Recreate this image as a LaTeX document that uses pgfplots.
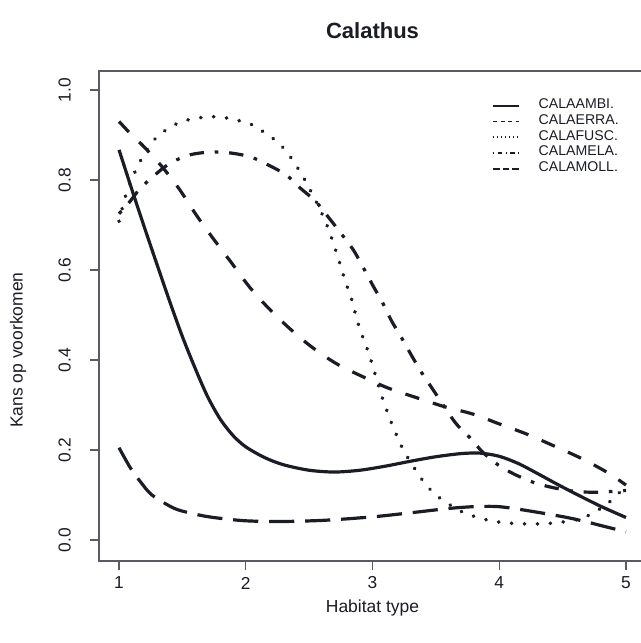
\documentclass[border=0pt]{standalone}
\usepackage{fontspec}
\setmainfont{Liberation Sans}
\usepackage{pgfplots}
\pgfplotsset{compat=1.18}

\definecolor{ink}{HTML}{1A1C26}
\definecolor{frame}{HTML}{5A5B62}

\begin{document}
\begin{tikzpicture}
\useasboundingbox (-74.25pt,-61.5pt) rectangle (405.75pt,420.75pt);
\begin{axis}[
  at={(0,0)}, anchor=south west,
  scale only axis, width=410.25pt, height=367.5pt,
  xmin=0.842, xmax=5.158, ymin=-0.0467, ymax=1.0422,
  axis line style={frame, line width=1pt},
  tick style={frame, line width=0.9pt},
  tick align=outside, major tick length=7pt,
  xtick={1,2,3,4,5}, ytick={0,0.2,0.4,0.6,0.8,1.0},
  xtick pos=bottom, ytick pos=left,
  /pgf/number format/assume math mode=true,
  yticklabel style={/pgf/number format/fixed, /pgf/number format/fixed zerofill,
    /pgf/number format/precision=1, rotate=90, anchor=center, yshift=18.75pt},
  xticklabel style={anchor=center, yshift=-9.5pt},
  ticklabel style={font=\fontsize{13}{15}\selectfont, text=ink},
  title={Calathus},
  title style={font=\fontsize{16.5}{18}\selectfont\bfseries, text=ink,
    at={(axis description cs:0.5,1)}, anchor=center, yshift=24pt},
  xlabel={Habitat type},
  xlabel style={font=\fontsize{13.1}{15}\selectfont, text=ink,
    at={(axis description cs:0.5,0)}, anchor=center, yshift=-35.25pt},
  ylabel={Kans op voorkomen},
  ylabel style={font=\fontsize{13.1}{15}\selectfont, text=ink,
    at={(axis description cs:0,0.4306)}, anchor=center, yshift=60.75pt},
  legend image code/.code={\draw[#1] (0pt,0pt) -- (19.5pt,0pt);},
  legend cell align=left,
  legend style={draw=none, fill=none, at={(axis description cs:0.7185,0.9455)},
    anchor=north west, inner sep=0pt, column sep=14pt, row sep=0pt,
    font=\fontsize{10.6}{11.8}\selectfont, text=ink,
    nodes={inner sep=0pt, text height=8pt, text depth=3.8pt}},
  every axis plot/.append style={ink, line width=2.4pt, line cap=butt, line join=round},
]
\addplot[smooth, tension=0.5, legend image post style={line width=1.3pt}] coordinates {
  (1,0.867) (1.1,0.78) (1.2,0.695) (1.3,0.612) (1.4,0.53) (1.5,0.452) (1.6,0.382)
  (1.7,0.318) (1.8,0.268) (1.9,0.232) (2.0,0.207) (2.15,0.183) (2.3,0.167)
  (2.5,0.155) (2.7,0.151) (2.9,0.155) (3.1,0.164) (3.3,0.175) (3.5,0.185)
  (3.7,0.192) (3.85,0.193) (4.0,0.186) (4.15,0.17) (4.3,0.148) (4.45,0.125)
  (4.6,0.103) (4.8,0.075) (5,0.05)
};
\addlegendentry{CALAAMBI.}
\addplot[smooth, tension=0.5, dash pattern=on 10.8pt off 10.8pt,
  legend image post style={line width=1.3pt, dash pattern=on 3pt off 2.6pt}] coordinates {
  (1,0.93) (1.1,0.9) (1.2,0.873) (1.35,0.826) (1.48,0.778) (1.61,0.722)
  (1.74,0.671) (1.89,0.615) (2.03,0.562) (2.18,0.515) (2.35,0.469) (2.52,0.429)
  (2.72,0.391) (2.93,0.362) (3.12,0.338) (3.35,0.316) (3.57,0.296) (3.79,0.28)
  (4.0,0.258) (4.22,0.235) (4.44,0.208) (4.65,0.181) (4.86,0.149) (5,0.122)
};
\addlegendentry{CALAERRA.}
\addplot[smooth, tension=0.5, line cap=round, line width=2.8pt, dash pattern=on 0.2pt off 9.5pt,
  legend image post style={line width=1.3pt, line cap=butt, dash pattern=on 1pt off 2pt}] coordinates {
  (1,0.708) (1.06,0.772) (1.16,0.838) (1.28,0.89) (1.37,0.911) (1.47,0.927)
  (1.58,0.936) (1.7,0.94) (1.8,0.94) (1.93,0.933) (2.04,0.924) (2.14,0.907)
  (2.23,0.889) (2.32,0.864) (2.44,0.813) (2.55,0.755) (2.64,0.7) (2.72,0.635)
  (2.79,0.571) (2.83,0.54) (2.89,0.478) (2.97,0.415) (3.03,0.36) (3.07,0.322)
  (3.15,0.26) (3.24,0.202) (3.36,0.147) (3.43,0.12) (3.51,0.098) (3.6,0.08)
  (3.71,0.062) (3.82,0.051) (3.93,0.043) (4.05,0.038) (4.2,0.036) (4.35,0.036)
  (4.5,0.04) (4.62,0.046) (4.73,0.058) (4.85,0.08) (4.93,0.1) (5,0.12)
};
\addlegendentry{CALAFUSC.}
\addplot[smooth, tension=0.5, dash pattern=on 2.7pt off 8.1pt on 10.8pt off 8.1pt,
  legend image post style={line width=1.3pt, dash pattern=on 1pt off 2.4pt on 3.6pt off 2.4pt}] coordinates {
  (1,0.725) (1.08,0.75) (1.17,0.782) (1.32,0.82) (1.42,0.84) (1.56,0.856)
  (1.72,0.862) (1.88,0.86) (2.04,0.851) (2.18,0.833) (2.32,0.811) (2.43,0.782)
  (2.55,0.753) (2.65,0.718) (2.75,0.682) (2.85,0.644) (2.93,0.604) (3.0,0.567)
  (3.08,0.527) (3.15,0.487) (3.23,0.449) (3.31,0.409) (3.39,0.371) (3.48,0.333)
  (3.65,0.262) (3.77,0.227) (3.87,0.195) (3.99,0.167) (4.12,0.146) (4.28,0.127)
  (4.43,0.116) (4.6,0.108) (4.76,0.106) (4.9,0.108) (5,0.11)
};
\addlegendentry{CALAMELA.}
\addplot[smooth, tension=0.5, dash pattern=on 18.9pt off 8.1pt,
  legend image post style={line width=1.3pt, dash pattern=on 5pt off 2.2pt}] coordinates {
  (1,0.205) (1.09,0.16) (1.17,0.129) (1.26,0.1) (1.43,0.071) (1.56,0.06)
  (1.72,0.051) (1.98,0.043) (2.25,0.041) (2.56,0.043) (2.8,0.047) (3.06,0.053)
  (3.35,0.062) (3.6,0.07) (3.8,0.074) (4.0,0.074) (4.25,0.064) (4.57,0.048)
  (4.86,0.028) (5,0.018)
};
\addlegendentry{CALAMOLL.}
\end{axis}
\end{tikzpicture}
\end{document}
